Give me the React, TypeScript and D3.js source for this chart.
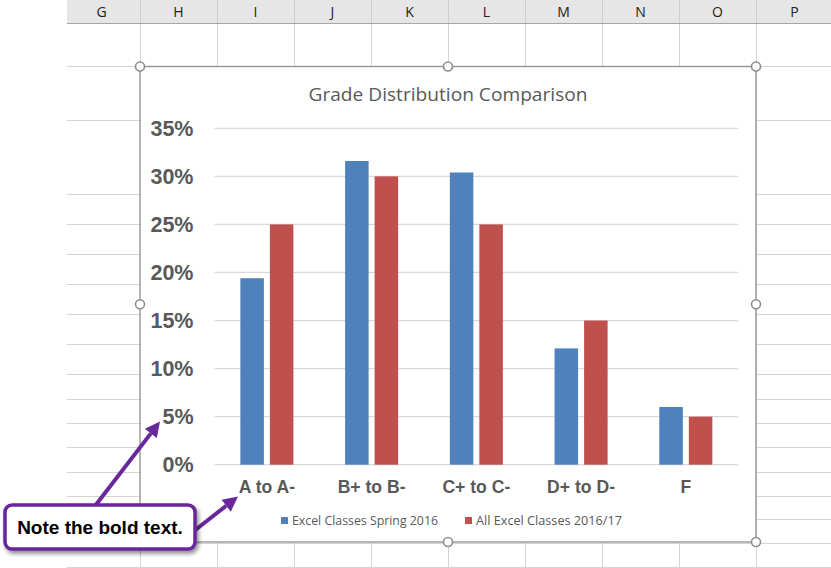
import React from "react";
import * as d3 from "d3";

// ---- data ----
const categories = ["A to A-", "B+ to B-", "C+ to C-", "D+ to D-", "F"];
const seriesNames = ["Excel Classes Spring 2016", "All Excel Classes 2016/17"];
const spring2016 = [0.194, 0.316, 0.304, 0.121, 0.06];
const allClasses = [0.25, 0.3, 0.25, 0.15, 0.05];
const yTickValues = [0, 0.05, 0.1, 0.15, 0.2, 0.25, 0.3, 0.35];
const columnLetters = ["G", "H", "I", "J", "K", "L", "M", "N", "O", "P"];
const chartTitle = "Grade Distribution Comparison";
const calloutText = "Note the bold text.";

// ---- layout (spreadsheet decoration) ----
const W = 831;
const H = 568;
const HEADER_H = 23;
const GRID_LEFT = 67;
const COL_W = 77;
const FIRST_COL_LEFT = 63;
const ROW_LINES = [66, 120, 194, 224, 254, 284, 314, 344, 374, 399, 423, 447, 472, 496, 519, 543, 567];

const colors = ["#4f81bd", "#c0504d"];
const textGray = "#595959";
const purple = "#68289a";

export default function App() {
  const chart = { x0: 140, y0: 66.5, x1: 756, y1: 542 };
  const plot = { left: 214.5, right: 738.2, top: 128.3, bottom: 464.7 };

  const y = d3.scaleLinear().domain([0, 0.35]).range([plot.bottom, plot.top]);
  const x0 = d3.scaleBand<string>().domain(categories).range([plot.left, plot.right]).padding(0);
  const x1 = d3
    .scaleBand<number>()
    .domain([0, 1])
    .range([0, x0.bandwidth()])
    .paddingInner(0.203)
    .paddingOuter(0.876);
  const fmt = d3.format(".0%");
  const series = [spring2016, allClasses];

  const colLines = d3.range(columnLetters.length).map((i) => FIRST_COL_LEFT + COL_W * (i + 1));

  const handles: [number, number][] = [
    [chart.x0, chart.y0],
    [(chart.x0 + chart.x1) / 2, chart.y0],
    [chart.x1, chart.y0],
    [chart.x0, (chart.y0 + chart.y1) / 2],
    [chart.x1, (chart.y0 + chart.y1) / 2],
    [chart.x0, chart.y1],
    [(chart.x0 + chart.x1) / 2, chart.y1],
    [chart.x1, chart.y1],
  ];

  const arrow = (x1p: number, y1p: number, x2p: number, y2p: number, key: string) => {
    const ang = Math.atan2(y2p - y1p, x2p - x1p);
    const len = 15;
    const half = 7.5;
    const bx = x2p - len * Math.cos(ang);
    const by = y2p - len * Math.sin(ang);
    const px = -Math.sin(ang);
    const py = Math.cos(ang);
    const pts = [
      [x2p, y2p],
      [bx + half * px, by + half * py],
      [bx - half * px, by - half * py],
    ];
    return (
      <g key={key}>
        <line x1={x1p} y1={y1p} x2={bx} y2={by} stroke={purple} strokeWidth={4} />
        <polygon points={pts.map((p) => p.join(",")).join(" ")} fill={purple} />
      </g>
    );
  };

  return (
    <svg
      width={W}
      height={H}
      style={{ position: "absolute", left: 0, top: 0, background: "#fff" }}
    >
      <defs>
        <filter id="shadow" x="-10%" y="-20%" width="130%" height="160%">
          <feGaussianBlur in="SourceAlpha" stdDeviation="2" />
          <feOffset dx="2" dy="3" result="b" />
          <feComponentTransfer>
            <feFuncA type="linear" slope="0.45" />
          </feComponentTransfer>
          <feMerge>
            <feMergeNode />
            <feMergeNode in="SourceGraphic" />
          </feMerge>
        </filter>
      </defs>

      {/* spreadsheet grid */}
      {ROW_LINES.map((ry) => (
        <line key={"r" + ry} x1={GRID_LEFT} x2={W} y1={ry + 0.5} y2={ry + 0.5} stroke="#d4d4d4" />
      ))}
      {colLines.map((cx) => (
        <line key={"c" + cx} x1={cx + 0.5} x2={cx + 0.5} y1={HEADER_H} y2={H} stroke="#d4d4d4" />
      ))}

      {/* column header */}
      <rect x={GRID_LEFT} y={0} width={W - GRID_LEFT} height={HEADER_H} fill="#e6e6e6" />
      {colLines.map((cx) => (
        <line key={"hc" + cx} x1={cx + 0.5} x2={cx + 0.5} y1={0} y2={HEADER_H} stroke="#cdcdcd" />
      ))}
      <line x1={GRID_LEFT} x2={W} y1={HEADER_H + 0.5} y2={HEADER_H + 0.5} stroke="#a6a6a6" />
      {columnLetters.map((c, i) => (
        <text
          key={c}
          x={FIRST_COL_LEFT + COL_W * i + COL_W / 2}
          y={17}
          textAnchor="middle"
          fontFamily="'Open Sans', sans-serif"
          fontSize={14}
          fill="#222"
        >
          {c}
        </text>
      ))}

      {/* chart area */}
      <rect
        x={chart.x0}
        y={chart.y0}
        width={chart.x1 - chart.x0}
        height={chart.y1 - chart.y0}
        fill="#fff"
        stroke="#8f8f8f"
        strokeWidth={1.3}
      />

      <text
        x={(chart.x0 + chart.x1) / 2}
        y={101}
        textAnchor="middle"
        fontFamily="'Open Sans', sans-serif"
        fontSize={18}
        fill={textGray}
        textLength={279}
        lengthAdjust="spacingAndGlyphs"
      >
        {chartTitle}
      </text>

      {/* gridlines */}
      {yTickValues.map((t) => (
        <line
          key={"g" + t}
          x1={plot.left}
          x2={plot.right}
          y1={y(t)}
          y2={y(t)}
          stroke="#d9d9d9"
          strokeWidth={1.3}
        />
      ))}
      {yTickValues.map((t) => (
        <text
          key={"yl" + t}
          x={193.5}
          y={y(t)}
          dy="0.36em"
          textAnchor="end"
          fontFamily="'Liberation Sans', Arial, sans-serif"
          fontWeight="bold"
          fontSize={21.5}
          fill={textGray}
        >
          {fmt(t)}
        </text>
      ))}

      {/* bars */}
      {categories.map((c, ci) =>
        series.map((s, si) => (
          <rect
            key={c + si}
            x={(x0(c) ?? 0) + (x1(si) ?? 0)}
            y={y(s[ci])}
            width={x1.bandwidth()}
            height={y(0) - y(s[ci])}
            fill={colors[si]}
          />
        ))
      )}

      {/* category labels */}
      {categories.map((c) => (
        <text
          key={"xl" + c}
          x={(x0(c) ?? 0) + x0.bandwidth() / 2}
          y={492.7}
          textAnchor="middle"
          fontFamily="'Liberation Sans', Arial, sans-serif"
          fontWeight="bold"
          fontSize={17.6}
          fill={textGray}
        >
          {c}
        </text>
      ))}

      {/* legend */}
      {seriesNames.map((n, i) => {
        const lx = [281, 465][i];
        return (
          <g key={n}>
            <rect x={lx} y={517} width={7} height={7} fill={colors[i]} />
            <text
              x={lx + 11}
              y={520.5}
              dy="0.35em"
              fontFamily="'Open Sans', sans-serif"
              fontSize={12.5}
              fill={textGray}
              textLength={146}
              lengthAdjust="spacingAndGlyphs"
            >
              {n}
            </text>
          </g>
        );
      })}

      {/* selection handles */}
      {handles.map(([hx, hy], i) => (
        <circle key={"h" + i} cx={hx} cy={hy} r={4.5} fill="#fff" stroke="#8f8f8f" strokeWidth={1.6} />
      ))}

      {/* callout */}
      {arrow(95, 506, 160, 421.5, "a1")}
      {arrow(194, 531, 238, 496.5, "a2")}
      <rect
        x={5}
        y={505}
        width={190}
        height={44}
        rx={7}
        fill="#fff"
        stroke={purple}
        strokeWidth={3.5}
        filter="url(#shadow)"
      />
      <text
        x={100}
        y={534}
        textAnchor="middle"
        fontFamily="'Liberation Sans', Arial, sans-serif"
        fontWeight="bold"
        fontSize={19}
        fill="#000"
      >
        {calloutText}
      </text>
    </svg>
  );
}
